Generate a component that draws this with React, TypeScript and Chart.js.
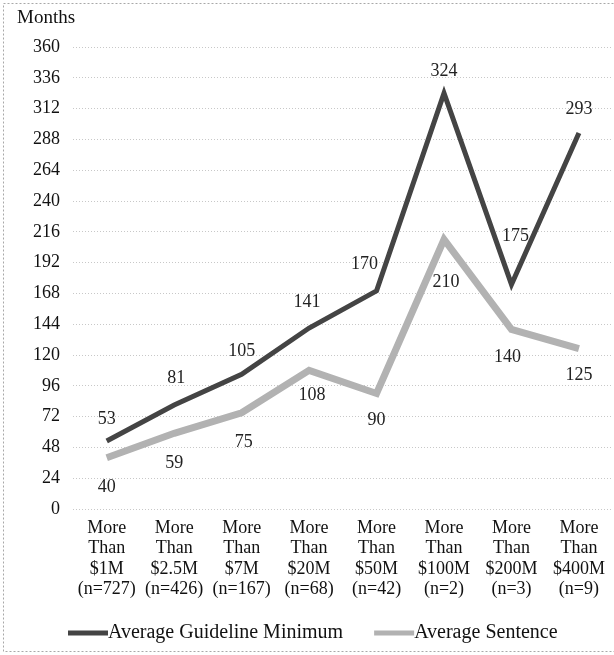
import React, { useEffect, useRef } from "react";
import { Chart, registerables } from "chart.js";

Chart.register(...registerables);

const categories: string[][] = [
  ["More", "Than", "$1M", "(n=727)"],
  ["More", "Than", "$2.5M", "(n=426)"],
  ["More", "Than", "$7M", "(n=167)"],
  ["More", "Than", "$20M", "(n=68)"],
  ["More", "Than", "$50M", "(n=42)"],
  ["More", "Than", "$100M", "(n=2)"],
  ["More", "Than", "$200M", "(n=3)"],
  ["More", "Than", "$400M", "(n=9)"],
];
const guidelineMinimum = [53, 81, 105, 141, 170, 324, 175, 293];
const averageSentence = [40, 59, 75, 108, 90, 210, 140, 125];
const seriesNames = ["Average Guideline Minimum", "Average Sentence"];
const yMin = 0;
const yMax = 360;
const yStep = 24;
const axisTitle = "Months";

// label placement (pixel offsets from each point)
const guidelineLabelOffsets: [number, number][] = [
  [0, -22], [2, -27], [0, -23], [-2, -26], [-12, -27], [0, -22], [4, -48], [0, -24],
];
const sentenceLabelOffsets: [number, number][] = [
  [0, 30], [0, 30], [2, 30], [3, 25], [0, 27], [2, 43], [-4, 28], [0, 27],
];

const FONT = "'Liberation Serif', 'Times New Roman', serif";
const DARK = "#444444";
const LIGHT = "#b2b2b2";

export default function App() {
  const ref = useRef<HTMLCanvasElement | null>(null);

  useEffect(() => {
    if (!ref.current) return;

    const decor = {
      id: "decor",
      beforeDraw(chart: any) {
        const ctx = chart.ctx;
        ctx.save();
        ctx.fillStyle = "#ffffff";
        ctx.fillRect(0, 0, chart.width, chart.height);
        ctx.strokeStyle = "#a8a8a8";
        ctx.lineWidth = 1;
        ctx.setLineDash([2, 2]);
        ctx.strokeRect(3.5, 3.5, chart.width + 10, chart.height - 7);
        ctx.restore();
      },
      afterDatasetsDraw(chart: any) {
        const ctx = chart.ctx;
        ctx.save();
        ctx.font = `18px ${FONT}`;
        ctx.fillStyle = "#222222";
        ctx.textAlign = "center";
        ctx.textBaseline = "middle";
        const offs = [guidelineLabelOffsets, sentenceLabelOffsets];
        chart.data.datasets.forEach((ds: any, di: number) => {
          const meta = chart.getDatasetMeta(di);
          meta.data.forEach((pt: any, i: number) => {
            const [dx, dy] = offs[di][i];
            ctx.fillText(String(ds.data[i]), pt.x + dx, pt.y + dy);
          });
        });
        ctx.restore();
      },
      afterDraw(chart: any) {
        const ctx = chart.ctx;
        ctx.save();
        ctx.font = `19px ${FONT}`;
        ctx.fillStyle = "#111111";
        ctx.textAlign = "left";
        ctx.textBaseline = "middle";
        ctx.fillText(axisTitle, 17, 18);
        ctx.font = `20px ${FONT}`;
        const colors = [DARK, LIGHT];
        let x = chart.chartArea.left - 5;
        const y = 633;
        seriesNames.forEach((name, i) => {
          ctx.fillStyle = colors[i];
          ctx.fillRect(x, y - 2.5, 40, 5);
          ctx.fillStyle = "#111111";
          ctx.fillText(name, x + 40, y);
          x += 40 + ctx.measureText(name).width + 31;
        });
        ctx.restore();
      },
    };

    const chart = new Chart(ref.current, {
      type: "line",
      data: {
        labels: categories,
        datasets: [
          {
            label: seriesNames[0],
            data: guidelineMinimum,
            borderColor: DARK,
            backgroundColor: DARK,
            borderWidth: 5,
            pointRadius: 0,
            tension: 0,
          },
          {
            label: seriesNames[1],
            data: averageSentence,
            borderColor: LIGHT,
            backgroundColor: LIGHT,
            borderWidth: 7,
            pointRadius: 0,
            tension: 0,
          },
        ],
      },
      options: {
        responsive: false,
        animation: false,
        devicePixelRatio: 1,
        layout: { padding: { top: 47, left: 0, right: 1, bottom: 0 } },
        plugins: {
          legend: { display: false },
          tooltip: { enabled: false },
          title: { display: false },
        },
        scales: {
          x: {
            offset: true,
            grid: { display: false, drawTicks: false },
            border: { display: false },
            ticks: {
              color: "#111111",
              font: { family: FONT, size: 18, lineHeight: 1.13 },
              padding: 9,
              maxRotation: 0,
              autoSkip: false,
            },
            afterFit: (s: any) => {
              s.height = 146;
            },
          },
          y: {
            min: yMin,
            max: yMax,
            grid: { color: "#c8c8c8", lineWidth: 1, drawTicks: false },
            border: { display: false, dash: [1, 2] },
            ticks: {
              stepSize: yStep,
              color: "#111111",
              font: { family: FONT, size: 18 },
              padding: 13,
            },
            afterFit: (s: any) => {
              s.width = 73;
            },
          },
        },
      },
      plugins: [decor],
    });

    return () => chart.destroy();
  }, []);

  return (
    <div style={{ position: "fixed", left: 0, top: 0, width: 614, height: 655 }}>
      <canvas ref={ref} width={614} height={655} style={{ display: "block", width: 614, height: 655 }} />
    </div>
  );
}
